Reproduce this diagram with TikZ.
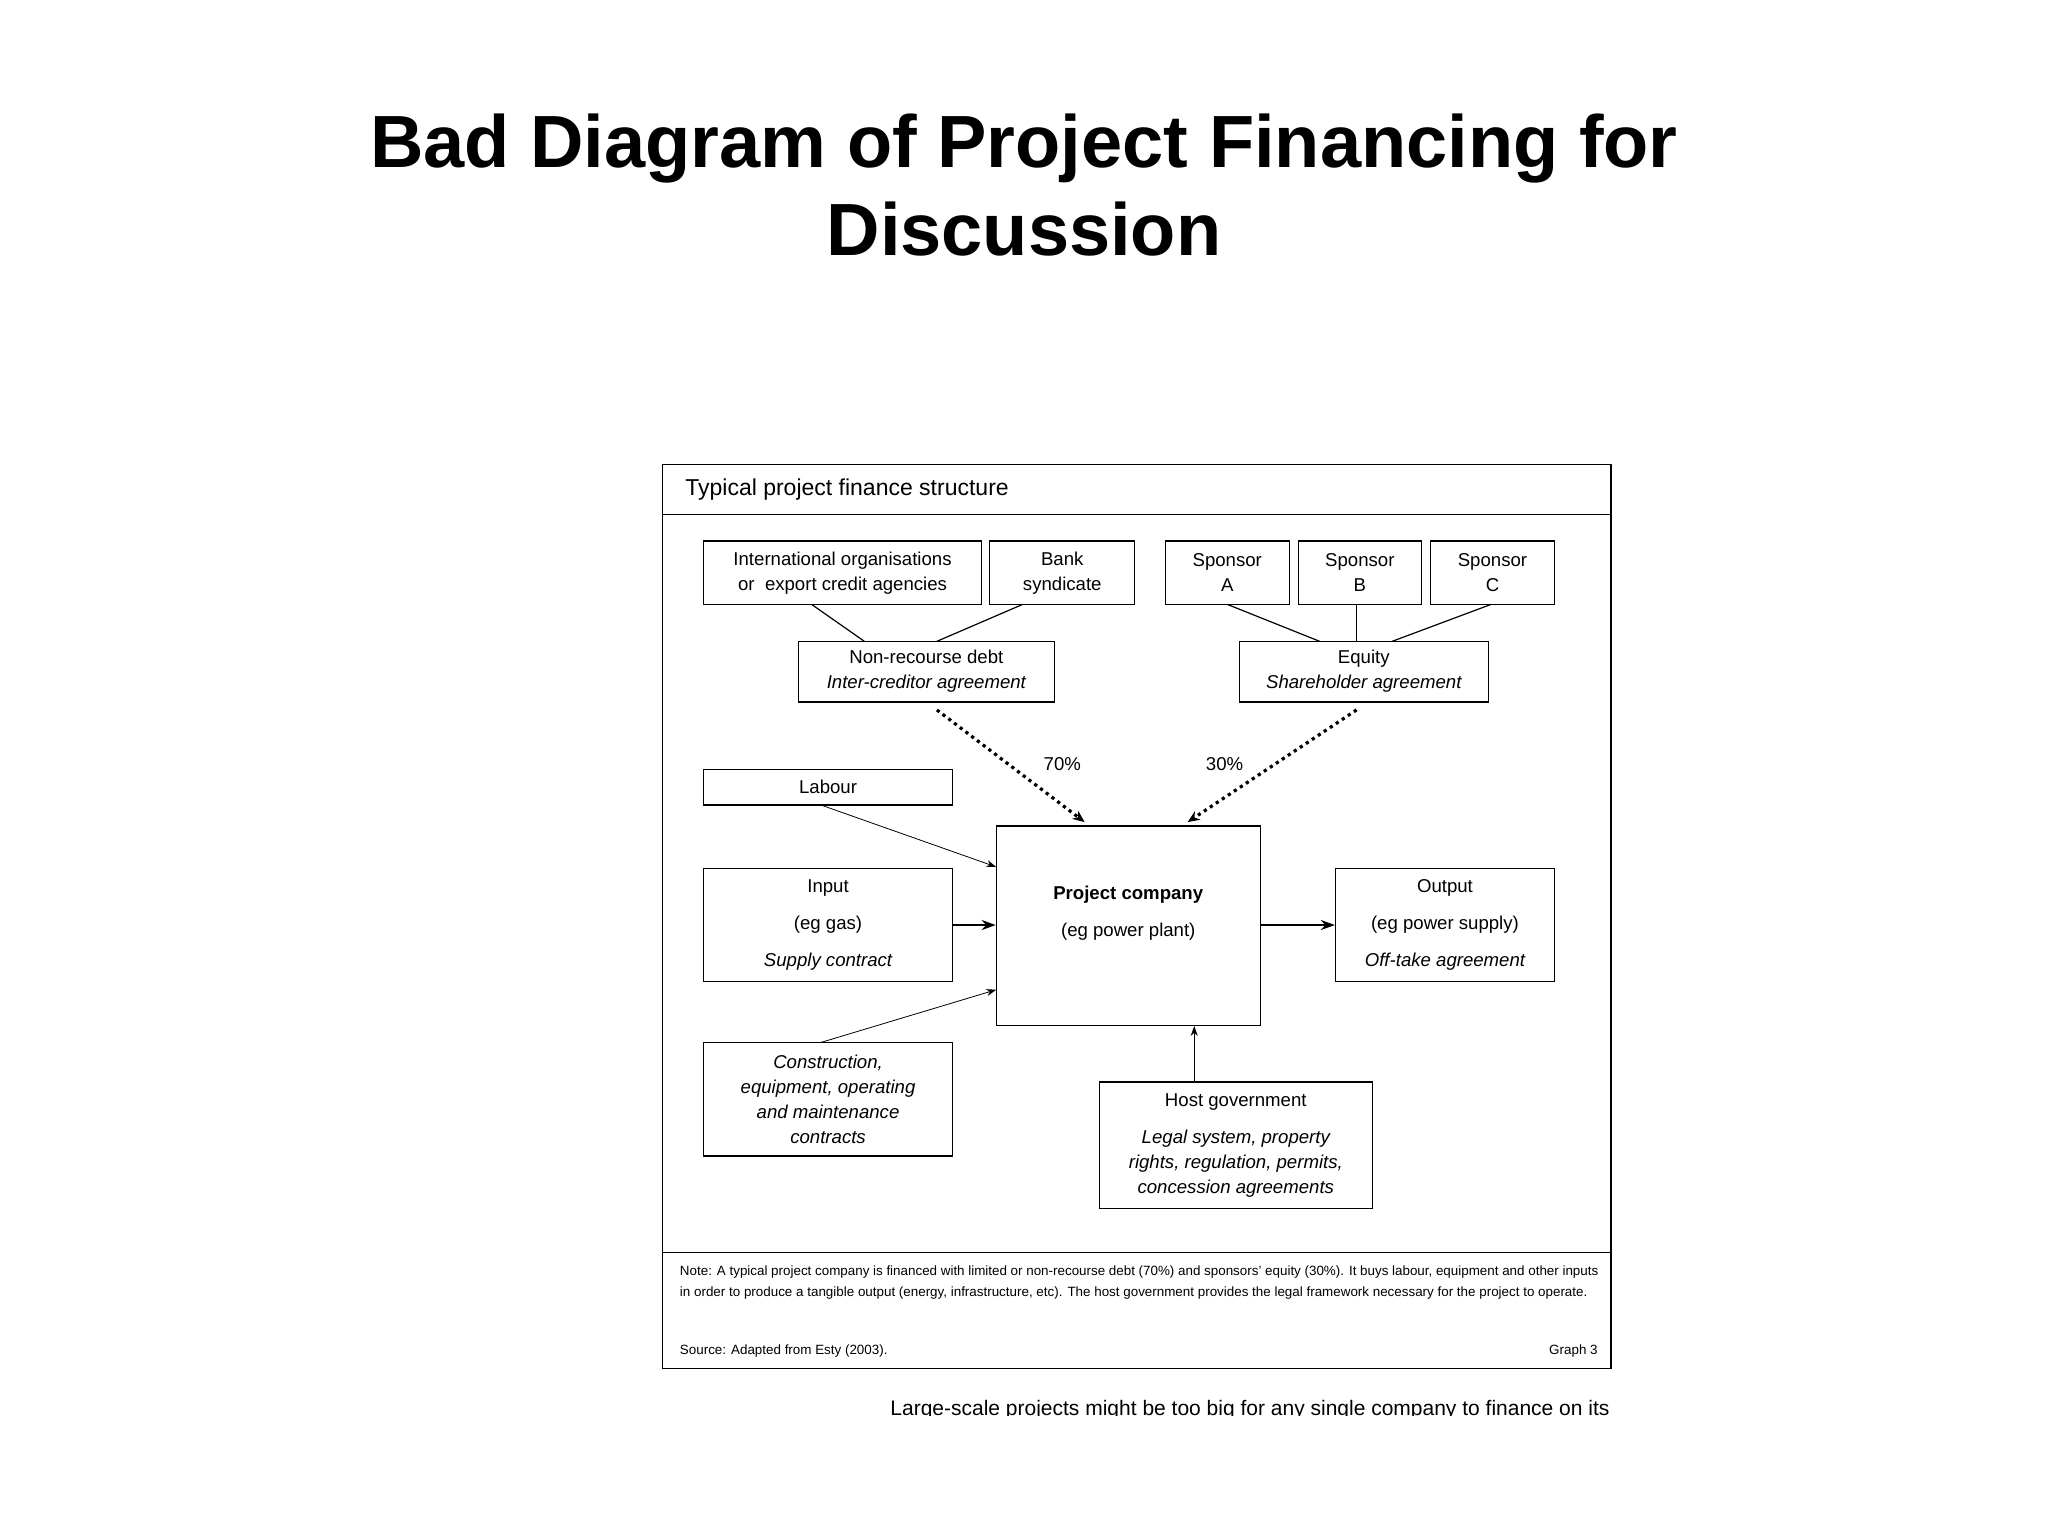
\documentclass[tikz,border=0pt]{standalone}
\usepackage{fontspec}
\setmainfont{Liberation Sans}
\usetikzlibrary{arrows.meta}
\begin{document}
\begin{tikzpicture}[x=0.6598pt,y=-0.6598pt,
  bx/.style={draw,line width=0.6pt,inner sep=0pt,font=\fontsize{9.3}{12.5}\selectfont,align=center},
  ln/.style={line width=0.6pt},
  thin arr/.style={line width=0.4pt,-{Stealth[length=5pt,width=3.5pt]}},
  thick arr/.style={line width=1.4pt,-{Stealth[length=7pt,width=5pt]}},
  dot arr/.style={line width=1.6pt,dotted,-{Stealth[length=6pt,width=5pt]}}]
\useasboundingbox (0,0) rectangle (1552,1164);
% title
\node[font=\fontsize{37}{44}\selectfont\bfseries,align=center] (title) at (776,140) {Bad Diagram of Project Financing for\\Discussion};
% frame
\draw[line width=0.8pt] (502,352) rectangle (1221,1037);
\draw[line width=0.8pt] (502,390) -- (1221,390);
\draw[line width=0.6pt] (502,949) -- (1221,949);
\node[anchor=west,font=\fontsize{11.5}{14}\selectfont] (hdr) at (514,371) {Typical project finance structure};
% boxes
\newcommand{\bxat}[6]{\node[bx,minimum width=#4*0.6598pt-#2*0.6598pt,minimum height=#5*0.6598pt-#3*0.6598pt] (#1) at ({(#2+#4)/2},{(#3+#5)/2}) {#6};}
\bxat{intorg}{533}{410}{744}{458}{International organisations\\or\ \ export credit agencies}
\bxat{bank}{750}{410}{860}{458}{Bank\\syndicate}
\bxat{spa}{883}{410}{977}{458}{Sponsor\\A}
\bxat{spb}{984}{410}{1077}{458}{Sponsor\\B}
\bxat{spc}{1084}{410}{1178}{458}{Sponsor\\C}
\bxat{debt}{605}{486}{799}{532}{Non-recourse debt\\\itshape Inter-creditor agreement}
\bxat{equity}{939}{486}{1128}{532}{Equity\\\itshape Shareholder agreement}
\bxat{labour}{533}{583}{722}{610}{Labour}
\bxat{input}{533}{658}{722}{744}{Input\\[6pt](eg gas)\\[6pt]\itshape Supply contract}
\bxat{proj}{755}{626}{955}{777}{}
\node[font=\fontsize{9.3}{12.5}\selectfont,align=center] (projtxt) at (855,692) {\bfseries Project company\\[6pt](eg power plant)};
\bxat{output}{1012}{658}{1178}{744}{Output\\[6pt](eg power supply)\\[6pt]\itshape Off-take agreement}
\bxat{constr}{533}{790}{722}{876}{\itshape Construction,\\\itshape equipment, operating\\\itshape and maintenance\\\itshape contracts}
\bxat{host}{833}{820}{1040}{916}{Host government\\[6pt]\itshape Legal system, property\\\itshape rights, regulation, permits,\\\itshape concession agreements}
% connector points
\coordinate (c1) at (615,458); \coordinate (c2) at (655,486);
\coordinate (c3) at (775,458); \coordinate (c4) at (710,486);
\coordinate (c5) at (930,458); \coordinate (c6) at (1000,486);
\coordinate (c7) at (1028,458); \coordinate (c8) at (1028,486);
\coordinate (c9) at (1130,458); \coordinate (c10) at (1055,486);
\draw[ln] (c1)--(c2); \draw[ln] (c3)--(c4);
\draw[ln] (c5)--(c6); \draw[ln] (c7)--(c8); \draw[ln] (c9)--(c10);
\coordinate (d1) at (710,538); \coordinate (d2) at (822,623);
\coordinate (e1) at (1028,538); \coordinate (e2) at (900,623);
\draw[dot arr] (d1)--(d2);
\draw[dot arr] (e1)--(e2);
\node[font=\fontsize{9.3}{11}\selectfont] (p70) at (805,579) {70\%};
\node[font=\fontsize{9.3}{11}\selectfont] (p30) at (928,579) {30\%};
\coordinate (l1) at (622,610); \coordinate (l2) at (755,657);
\draw[thin arr] (l1)--(l2);
\coordinate (k1) at (622,790); \coordinate (k2) at (755,750);
\draw[thin arr] (k1)--(k2);
\draw[thin arr] (host.north -| 905,0) -- (proj.south -| 905,0);
\draw[thick arr] (input.east) -- (input.east -| proj.west);
\draw[thick arr] (output.west -| proj.east) -- (output.west);
% note
\node[anchor=north west,text width=696*0.6598pt,align=justify,font=\fontsize{6.7}{10.3}\selectfont,inner sep=0pt] (note) at (515,959) {Note: A typical project company is financed with limited or non-recourse debt (70\%) and sponsors' equity (30\%). It buys labour, equipment and other inputs in order to produce a tangible output (energy, infrastructure, etc). The host government provides the legal framework necessary for the project to operate.};
\node[anchor=west,font=\fontsize{6.7}{9}\selectfont,inner sep=0pt] (src) at (515,1024) {Source: Adapted from Esty (2003).};
\node[anchor=east,font=\fontsize{6.7}{9}\selectfont,inner sep=0pt] (g3) at (1211,1024) {Graph 3};
% clipped text
\begin{scope}
\clip (600,1058) rectangle (1230,1073);
\node[anchor=north east,font=\fontsize{10.5}{12}\selectfont,inner sep=0pt] (large) at (1220,1061) {Large-scale projects might be too big for any single company to finance on its};
\end{scope}
\end{tikzpicture}
\end{document}
